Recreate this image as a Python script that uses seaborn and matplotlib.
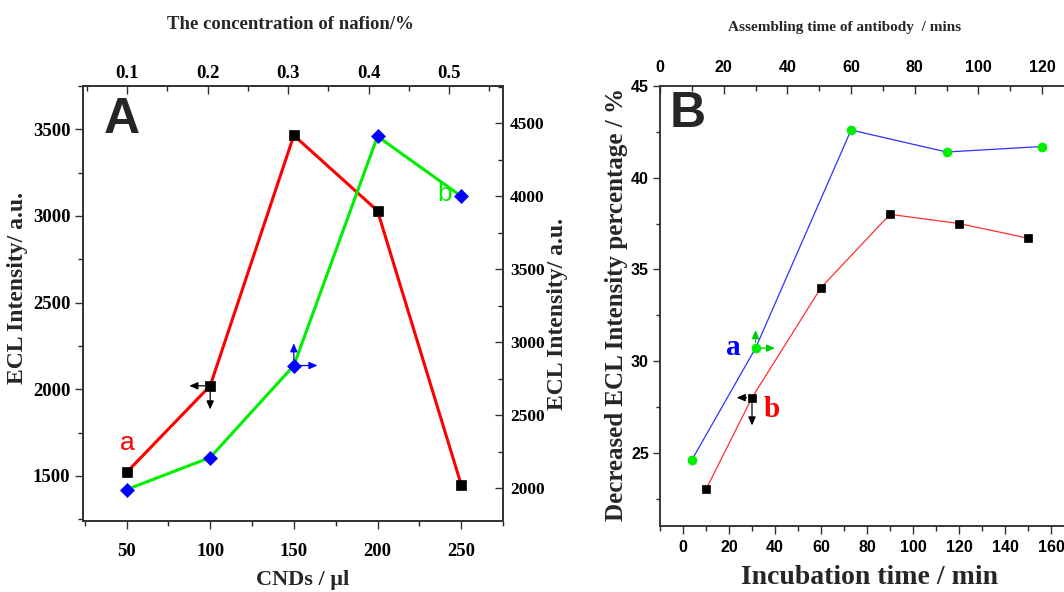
import matplotlib
matplotlib.use("Agg")
import matplotlib.pyplot as plt
import seaborn as sns
import pandas as pd
from matplotlib.ticker import MultipleLocator, FixedLocator

# ---------------- data ----------------
# Panel A
cnds_ul = [50, 100, 150, 200, 250]
ecl_a = [1520, 2020, 3465, 3030, 1450]          # left axis (red line, black squares)
ecl_b = [1990, 2210, 2840, 4410, 4000]          # right axis (green line, blue diamonds)
nafion_ticks = [0.1, 0.2, 0.3, 0.4, 0.5]
nafion_labels = ["0.1", "0.2", "0.3", "0.4", "0.5"]

# Panel B
incub_time = [10, 30, 60, 90, 120, 150]
dec_b = [23.0, 28.0, 34.0, 38.0, 37.5, 36.7]    # bottom axis (red line, black squares)
assem_time = [10, 30, 60, 90, 120]
dec_a = [24.6, 30.7, 42.6, 41.4, 41.7]          # top axis (blue line, green circles)

# ---------------- style ----------------
sns.set_style("ticks")
SERIF = ["Liberation Serif", "DejaVu Serif"]
SANS = ["Liberation Sans", "DejaVu Sans"]
NARROW = ["Liberation Sans Narrow", "Liberation Sans", "DejaVu Sans"]
plt.rcParams["font.family"] = SERIF
plt.rcParams["axes.edgecolor"] = "#333333"
plt.rcParams["axes.linewidth"] = 1.1

W, H = 1064, 592
fig = plt.figure(figsize=(W / 100, H / 100), dpi=100)


def rect(l, r, t, b):
    return [l / W, 1 - b / H, (r - l) / W, (b - t) / H]


def arrow(ax, x, y, dx, dy, color):
    ax.annotate("", xy=(x, y), xycoords="data", xytext=(dx, dy),
                textcoords="offset points",
                arrowprops=dict(arrowstyle="<|-,head_length=0.5,head_width=0.22",
                                color=color, lw=0.9, shrinkA=0, shrinkB=4),
                zorder=10)


# ================= Panel A =================
axA = fig.add_axes(rect(83, 503, 86, 521))
axA2 = axA.twinx()
axA3 = axA.twiny()

dfa = pd.DataFrame({"x": cnds_ul, "y": ecl_a})
dfb = pd.DataFrame({"x": cnds_ul, "y": ecl_b})
sns.lineplot(data=dfa, x="x", y="y", ax=axA, color="#ff0000", lw=2.2,
             marker="s", markersize=7, markerfacecolor="black",
             markeredgecolor="black", markeredgewidth=0.5)
sns.lineplot(data=dfb, x="x", y="y", ax=axA2, color="#00ee00", lw=2.2,
             marker="D", markersize=7, markerfacecolor="#0000ff",
             markeredgecolor="#0000ff", markeredgewidth=0.5)

axA.set_xlim(24, 275)
axA.set_ylim(1240, 3750)
axA2.set_ylim(1775, 4755)
axA3.set_xlim(0.045, 0.567)

axA.xaxis.set_major_locator(FixedLocator(cnds_ul))
axA.xaxis.set_minor_locator(MultipleLocator(25))
axA.yaxis.set_major_locator(MultipleLocator(500))
axA.yaxis.set_minor_locator(MultipleLocator(250))
axA2.yaxis.set_major_locator(MultipleLocator(500))
axA2.yaxis.set_minor_locator(MultipleLocator(250))
axA3.xaxis.set_major_locator(FixedLocator(nafion_ticks))
axA3.set_xticklabels(nafion_labels)
axA3.xaxis.set_minor_locator(MultipleLocator(0.05))

tkA = dict(labelsize=13.5, colors="#333333", labelcolor="black")
axA.tick_params(axis="x", which="major", direction="out", length=6, width=1, pad=10, **tkA)
axA.tick_params(axis="x", which="minor", direction="out", length=3.5, width=1)
axA.tick_params(axis="y", which="major", direction="out", length=6, width=1, pad=3, **tkA)
axA.tick_params(axis="y", which="minor", direction="out", length=3.5, width=1)
axA2.tick_params(axis="y", which="major", direction="in", length=6, width=1, pad=5,
                 labelsize=12.5, colors="#333333", labelcolor="black")
axA2.tick_params(axis="y", which="minor", direction="in", length=3.5, width=1)
axA3.tick_params(axis="x", which="major", direction="in", length=6, width=1, pad=3, **tkA)
axA3.tick_params(axis="x", which="minor", direction="in", length=3.5, width=1)
for a in (axA, axA2, axA3):
    for lab in a.get_xticklabels() + a.get_yticklabels():
        lab.set_fontweight("bold")
    for s in a.spines.values():
        s.set_visible(True)

axA.set_xlabel("CNDs / µl", fontsize=16, fontweight="bold")
axA.xaxis.set_label_coords(0.524, -0.136)
axA.set_ylabel("ECL Intensity/ a.u.", fontsize=17, fontweight="bold")
axA.yaxis.set_label_coords(-0.155, 0.535)
axA2.set_ylabel("ECL Intensity/ a.u.", fontsize=17, fontweight="bold", rotation=90)
axA2.yaxis.set_label_coords(1.13, 0.476)
axA3.set_xlabel("The concentration of nafion/%", fontsize=13.5, fontweight="bold")
axA3.xaxis.set_label_coords(0.495, 1.1425)
for lab in (axA.xaxis.label, axA.yaxis.label, axA2.yaxis.label, axA3.xaxis.label):
    lab.set_va("center")
    lab.set_ha("center")

axA.text(0.093, 0.922, "A", fontsize=36, fontweight="bold", family=SANS,
         ha="center", va="center", transform=axA.transAxes)
axA.text(0.105, 0.18, "a", fontsize=19, color="#ff0000", family=SANS,
         ha="center", va="center", transform=axA.transAxes)
axA.text(0.86, 0.752, "b", fontsize=19, color="#00ee00", family=SANS,
         ha="center", va="center", transform=axA.transAxes)

# axis indicator arrows
arrow(axA, cnds_ul[1], ecl_a[1], -15, 0, "black")
arrow(axA, cnds_ul[1], ecl_a[1], 0, -17, "black")
arrow(axA2, cnds_ul[2], ecl_b[2], 0, 16, "#0000ff")
arrow(axA2, cnds_ul[2], ecl_b[2], 17, 0, "#0000ff")

# ================= Panel B =================
axB = fig.add_axes(rect(660, 1074, 86, 526))
axB3 = axB.twiny()

dfbb = pd.DataFrame({"x": incub_time, "y": dec_b})
dfba = pd.DataFrame({"x": assem_time, "y": dec_a})
sns.lineplot(data=dfbb, x="x", y="y", ax=axB, color="#ff3030", lw=0.9,
             marker="s", markersize=6, markerfacecolor="black",
             markeredgecolor="black", markeredgewidth=0.5)
sns.lineplot(data=dfba, x="x", y="y", ax=axB3, color="#3030ff", lw=0.9,
             marker="o", markersize=6.5, markerfacecolor="#00ee00",
             markeredgecolor="#00ee00", markeredgewidth=0.5)

axB.set_xlim(-10, 170)
axB.set_ylim(21, 45)
axB3.set_xlim(0, 130)
axB.xaxis.set_major_locator(MultipleLocator(20))
axB.xaxis.set_minor_locator(MultipleLocator(10))
axB.yaxis.set_major_locator(MultipleLocator(5))
axB.yaxis.set_minor_locator(MultipleLocator(2.5))
axB3.xaxis.set_major_locator(MultipleLocator(20))
axB3.xaxis.set_minor_locator(MultipleLocator(10))

tkB = dict(labelsize=11.5, colors="#333333", labelcolor="black")
axB.tick_params(axis="x", which="major", direction="out", length=6, width=1, pad=4, **tkB)
axB.tick_params(axis="x", which="minor", direction="out", length=3.5, width=1)
axB.tick_params(axis="y", which="major", direction="out", length=5, width=1, pad=3, **tkB)
axB.tick_params(axis="y", which="minor", direction="out", length=3, width=1)
axB3.tick_params(axis="x", which="major", direction="in", length=6, width=1, pad=8, **tkB)
axB3.tick_params(axis="x", which="minor", direction="in", length=3.5, width=1)
for a in (axB, axB3):
    for lab in a.get_xticklabels() + a.get_yticklabels():
        lab.set_fontweight("bold")
        lab.set_family(NARROW)

axB.set_xlabel("Incubation time / min", fontsize=20, fontweight="bold")
axB.xaxis.set_label_coords(0.507, -0.116)
axB.set_ylabel("Decreased ECL Intensity percentage / %", fontsize=18, fontweight="bold")
axB.yaxis.set_label_coords(-0.106, 0.503)
axB3.set_xlabel("Assembling time of antibody  / mins", fontsize=11, fontweight="bold")
axB3.xaxis.set_label_coords(0.447, 1.132)
for lab in (axB.xaxis.label, axB.yaxis.label, axB3.xaxis.label):
    lab.set_va("center")
    lab.set_ha("center")

axB.text(0.068, 0.936, "B", fontsize=36, fontweight="bold", family=SANS,
         ha="center", va="center", transform=axB.transAxes)
axB.text(0.176, 0.405, "a", fontsize=21, fontweight="bold", color="#0000ff",
         ha="center", va="center", transform=axB.transAxes)
axB.text(0.271, 0.264, "b", fontsize=21, fontweight="bold", color="#ff0000",
         ha="center", va="center", transform=axB.transAxes)

arrow(axB3, assem_time[1], dec_a[1], 0, 13, "#00cc00")
arrow(axB3, assem_time[1], dec_a[1], 14, 0, "#00cc00")
arrow(axB, incub_time[1], dec_b[1], -11, 0, "black")
arrow(axB, incub_time[1], dec_b[1], 0, -20, "black")

fig.savefig("out.png", dpi=100)
